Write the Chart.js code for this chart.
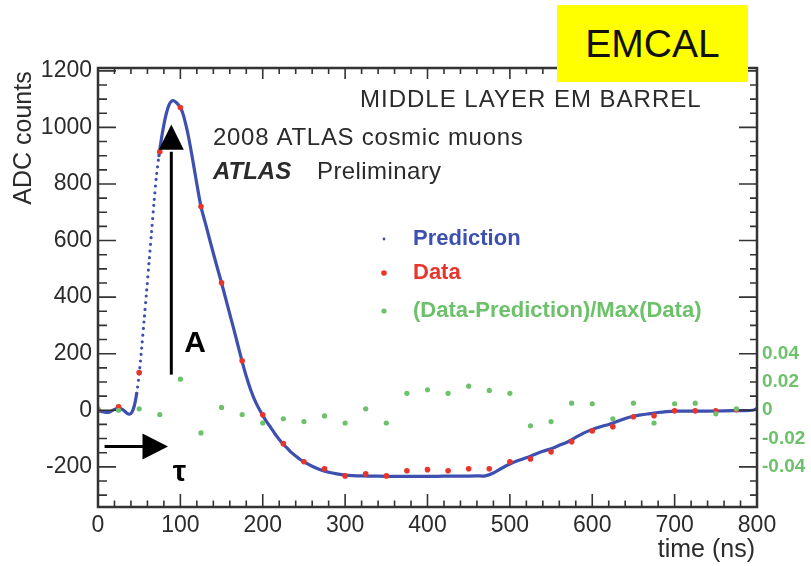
<!DOCTYPE html>
<html>
<head>
<meta charset="utf-8">
<script src="https://cdn.jsdelivr.net/npm/chart.js@4.4.1/dist/chart.umd.min.js"></script>
<style>
  html, body { margin: 0; padding: 0; background: #fff; }
  #wrap { position: relative; width: 811px; height: 566px; overflow: hidden; background: #fff; }
  #tag {
    position: absolute; left: 557px; top: 5px; width: 191px; height: 77px;
    background: #ffff00; color: #111;
    font: 39px 'Liberation Sans', Arial, sans-serif;
    display: flex; align-items: center; justify-content: center;
  }
</style>
</head>
<body>
<div id="wrap">
  <canvas id="c" width="811" height="566"></canvas>
  <div id="tag">EMCAL</div>
</div>
<script>
const FONT = "'Liberation Sans', Arial, sans-serif";
const BLUE = '#3d50b0';
const RED = '#e8342b';
const GREEN = '#6cc16a';
const INK = '#2b2b2b';

// Predicted pulse shape (ADC counts vs time in ns)
const predTime = [0, 5, 10, 15, 20, 25, 30, 35, 38, 41, 44, 47, 50, 53, 56, 59, 62, 65, 68, 71,
  74, 77, 80, 83, 86, 89, 92, 95, 98, 101, 104, 107, 110, 115, 120, 125, 130, 135, 140, 145,
  150, 155, 160, 165, 170, 175, 180, 185, 190, 195, 200, 205, 210, 215, 220, 225, 230, 235, 240, 245,
  250, 260, 270, 280, 290, 300, 320, 340, 360, 380, 400, 420, 440, 460, 470, 480, 490, 500, 510, 520,
  530, 540, 550, 560, 570, 580, 590, 600, 610, 620, 630, 640, 650, 660, 670, 680, 690, 700, 720, 740,
  760, 780, 795, 800];
const predValue = [0, -5, -8, -5, 3, 8, 2, -10, -14, -8, 15, 60, 130, 220, 320, 420, 525, 630, 735, 830,
  900, 960, 1010, 1050, 1078, 1092, 1094, 1088, 1078, 1065, 1040, 1005, 965, 885, 800, 720, 665, 610, 555, 502,
  450, 395, 340, 285, 228, 172, 120, 75, 38, 8, -18, -42, -62, -84, -103, -120, -135, -150, -162, -173,
  -182, -198, -210, -219, -225, -229, -232, -233, -234, -234, -234, -233, -233, -232, -232, -222, -205, -190, -178, -168,
  -156, -145, -136, -124, -112, -96, -80, -68, -58, -50, -40, -29, -21, -16, -12, -8, -5, -3, -3, -3,
  -2, -1, 0, 6];

// Measured samples every 25 ns
const dataTime = [0, 25, 50, 75, 100, 125, 150, 175, 200, 225, 250, 275, 300, 325, 350, 375,
  400, 425, 450, 475, 500, 525, 550, 575, 600, 625, 650, 675, 700, 725, 750, 775];
const dataValue = [0, 12, 133, 914, 1070, 720, 451, 175, -16, -118, -182, -207, -232, -225, -232, -214,
  -210, -214, -207, -207, -182, -172, -147, -111, -73, -58, -23, -19, -2, -2, -2, 2];
// (Data - Prediction) / Max(Data), right-hand scale
const residual = [0.001, 0.000, 0.001, -0.003, 0.022, -0.016, 0.002, -0.003, -0.009, -0.006, -0.008, -0.004, -0.009, 0.001, -0.009, 0.012,
  0.0145, 0.012, 0.017, 0.014, 0.012, -0.011, -0.008, 0.005, 0.0046, -0.006, 0.005, -0.009, 0.0046, 0.005, -0.0025, 0.001];

// Axis tick labels
const timeTicks = [0, 100, 200, 300, 400, 500, 600, 700, 800];
const adcTicks = [-200, 0, 200, 400, 600, 800, 1000, 1200];
const residualTicks = [-0.04, -0.02, 0, 0.02, 0.04];

const ADC_MIN = -342, ADC_MAX = 1210;
const RES_PER_ADC = 0.04 / 200;

const predPoints = predTime.map((t, i) => ({ x: t, y: predValue[i] }));
const dataPoints = dataTime.map((t, i) => ({ x: t, y: dataValue[i] }));
const resPoints = dataTime.map((t, i) => ({ x: t, y: residual[i] }));

const steep = ctx => Math.abs(ctx.p1.y - ctx.p0.y) > 7 * Math.abs(ctx.p1.x - ctx.p0.x);

const near = (v, list) => list.find(t => Math.abs(t - v) < 1e-6);

const decor = {
  id: 'decor',
  afterDraw(chart) {
    const { ctx, chartArea: a } = chart;
    const xs = chart.scales.x, ys = chart.scales.y;
    ctx.save();

    // frame
    ctx.strokeStyle = '#333';
    ctx.lineWidth = 2.5;
    ctx.strokeRect(a.left, a.top, a.right - a.left, a.bottom - a.top);

    // inward tick marks
    ctx.lineWidth = 1.6;
    ctx.beginPath();
    for (let t = 0; t <= 800; t += 20) {
      const px = xs.getPixelForValue(t);
      const major = t % 100 === 0;
      ctx.moveTo(px, a.bottom); ctx.lineTo(px, a.bottom - (major ? 13 : 6.5));
      ctx.moveTo(px, a.top); ctx.lineTo(px, a.top + (major ? 11 : 6));
    }
    for (let v = -300; v <= 1200; v += 50) {
      const py = ys.getPixelForValue(v);
      const major = v % 200 === 0;
      ctx.moveTo(a.left, py); ctx.lineTo(a.left + (major ? 18 : 9), py);
      ctx.moveTo(a.right, py); ctx.lineTo(a.right - (major ? 18 : 7), py);
    }
    ctx.stroke();

    // amplitude arrow
    ctx.fillStyle = '#000';
    ctx.strokeStyle = '#000';
    ctx.lineWidth = 3;
    const ax = xs.getPixelForValue(89);
    const aBase = ys.getPixelForValue(921), aTip = ys.getPixelForValue(1010);
    ctx.beginPath();
    ctx.moveTo(ax, ys.getPixelForValue(126)); ctx.lineTo(ax, aBase + 2);
    ctx.stroke();
    ctx.beginPath();
    ctx.moveTo(ax - 12.5, aBase); ctx.lineTo(ax + 12.5, aBase); ctx.lineTo(ax, aTip);
    ctx.closePath(); ctx.fill();

    // time arrow
    const ty = ys.getPixelForValue(-128);
    const tBase = xs.getPixelForValue(54), tTip = xs.getPixelForValue(85);
    ctx.beginPath();
    ctx.moveTo(xs.getPixelForValue(8), ty); ctx.lineTo(tBase + 2, ty);
    ctx.stroke();
    ctx.beginPath();
    ctx.moveTo(tBase, ty - 13); ctx.lineTo(tBase, ty + 13); ctx.lineTo(tTip, ty);
    ctx.closePath(); ctx.fill();

    ctx.textBaseline = 'middle';
    ctx.textAlign = 'center';
    ctx.font = `bold 30px ${FONT}`;
    ctx.fillText('A', xs.getPixelForValue(118), ys.getPixelForValue(235));
    ctx.fillText('τ', xs.getPixelForValue(99), ys.getPixelForValue(-222));

    // header notes
    ctx.textAlign = 'left';
    ctx.fillStyle = INK;
    ctx.letterSpacing = '1px';
    ctx.font = `24px ${FONT}`;
    ctx.fillText('MIDDLE LAYER EM BARREL', 360, 100);
    ctx.letterSpacing = '0.7px';
    ctx.fillText('2008 ATLAS cosmic muons', 213, 138);
    ctx.letterSpacing = '0px';
    ctx.font = `italic bold 24px ${FONT}`;
    ctx.fillText('ATLAS', 213, 172);
    ctx.letterSpacing = '0.4px';
    ctx.font = `24px ${FONT}`;
    ctx.fillText('Preliminary', 317, 172);
    ctx.letterSpacing = '0px';

    // axis titles
    ctx.font = `25px ${FONT}`;
    ctx.textAlign = 'right';
    ctx.fillText('time (ns)', 755, 550);
    ctx.save();
    ctx.translate(24, 138);
    ctx.rotate(-Math.PI / 2);
    ctx.textAlign = 'center';
    ctx.fillText('ADC counts', 0, 0);
    ctx.restore();

    // legend
    const rows = [
      { label: 'Prediction', color: BLUE, r: 1.4, y: 239 },
      { label: 'Data', color: RED, r: 2.8, y: 273 },
      { label: '(Data-Prediction)/Max(Data)', color: GREEN, r: 2.6, y: 311 }
    ];
    ctx.textAlign = 'left';
    ctx.font = `bold 22px ${FONT}`;
    rows.forEach(row => {
      ctx.fillStyle = row.color;
      ctx.beginPath();
      ctx.arc(384, row.y, row.r, 0, Math.PI * 2);
      ctx.fill();
      ctx.fillText(row.label, 413, row.y);
    });

    ctx.restore();
  }
};

new Chart(document.getElementById('c'), {
  type: 'scatter',
  data: {
    datasets: [
      {
        label: '(Data-Prediction)/Max(Data)',
        data: resPoints,
        yAxisID: 'y2',
        backgroundColor: GREEN,
        borderWidth: 0,
        pointRadius: 2.6,
        showLine: false,
        order: 1
      },
      {
        label: 'Data',
        data: dataPoints,
        yAxisID: 'y',
        backgroundColor: RED,
        borderWidth: 0,
        pointRadius: 2.8,
        showLine: false,
        order: 2
      },
      {
        label: 'Prediction',
        data: predPoints,
        yAxisID: 'y',
        showLine: true,
        borderColor: BLUE,
        borderWidth: 3.2,
        borderCapStyle: 'round',
        borderJoinStyle: 'round',
        pointRadius: 0,
        tension: 0.3,
        segment: {
          borderDash: ctx => steep(ctx) ? [0, 6.5] : undefined
        },
        order: 3
      }
    ]
  },
  options: {
    responsive: false,
    animation: false,
    devicePixelRatio: 1,
    layout: { padding: { top: 68, left: 0, right: 0, bottom: 0 } },
    plugins: { legend: { display: false }, tooltip: { enabled: false } },
    scales: {
      x: {
        type: 'linear',
        position: 'bottom',
        min: 0, max: 800,
        afterFit: s => { s.height = 59; },
        grid: { display: false, drawTicks: false },
        border: { display: false },
        ticks: {
          stepSize: 100,
          autoSkip: false,
          includeBounds: false,
          maxRotation: 0,
          padding: 5,
          color: INK,
          font: { family: FONT, size: 23 },
          callback: v => near(v, timeTicks) !== undefined ? String(v) : null
        }
      },
      y: {
        type: 'linear',
        position: 'left',
        min: ADC_MIN, max: ADC_MAX,
        afterFit: s => { s.width = 98; },
        grid: { display: false, drawTicks: false },
        border: { display: false },
        ticks: {
          stepSize: 200,
          autoSkip: false,
          includeBounds: false,
          padding: 6,
          color: INK,
          font: { family: FONT, size: 23 },
          callback: v => near(v, adcTicks) !== undefined ? String(v) : null
        }
      },
      y2: {
        type: 'linear',
        position: 'right',
        min: ADC_MIN * RES_PER_ADC, max: ADC_MAX * RES_PER_ADC,
        afterFit: s => { s.width = 54; },
        grid: { display: false, drawTicks: false },
        border: { display: false },
        ticks: {
          stepSize: 0.02,
          autoSkip: false,
          includeBounds: false,
          padding: 5,
          color: GREEN,
          font: { family: FONT, size: 19, weight: 'bold' },
          callback: v => {
            const hit = near(v, residualTicks);
            if (hit === undefined) return null;
            return hit === 0 ? '0' : hit.toFixed(2);
          }
        }
      }
    }
  },
  plugins: [decor]
});
</script>
</body>
</html>
